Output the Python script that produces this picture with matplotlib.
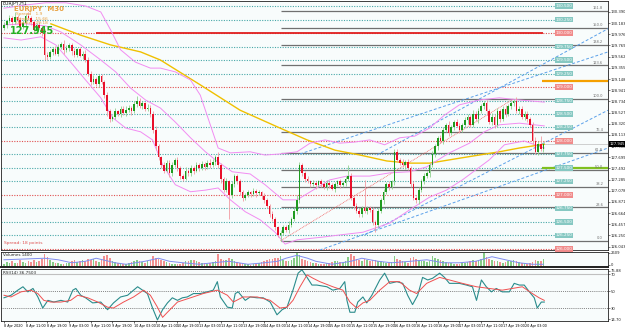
import matplotlib
matplotlib.use("Agg")
import matplotlib.pyplot as plt

# ---- candle closes (H1 bars) ----
closes = [
    130.15, 130.22, 130.28, 130.20, 130.30, 130.25, 130.12, 130.18, 130.32, 130.28,
    130.20, 130.05, 130.15, 130.10, 130.00, 129.60, 129.55, 129.65, 129.70, 129.62,
    129.75, 129.80, 129.68, 129.72, 129.78, 129.66, 129.60, 129.70, 129.58, 129.62,
    129.50, 129.25, 129.10, 129.15, 129.05, 129.20, 129.10, 128.85, 128.55, 128.40,
    128.45, 128.55, 128.50, 128.60, 128.52, 128.58, 128.62, 128.55, 128.68, 128.75,
    128.65, 128.70, 128.60, 128.62, 128.50, 128.20, 127.90, 127.70, 127.55, 127.45,
    127.60, 127.40, 127.55, 127.65, 127.50, 127.35, 127.30, 127.45, 127.40, 127.50,
    127.45, 127.55, 127.50, 127.58, 127.52, 127.60, 127.55, 127.62, 127.70, 127.55,
    127.30, 127.10, 127.25, 127.00, 127.20, 127.35, 127.25, 127.05, 126.95, 127.00,
    127.05, 127.02, 127.08, 127.03, 127.05, 126.98, 126.90, 126.80, 126.65, 126.55,
    126.40, 126.25, 126.30, 126.40, 126.35, 126.45, 126.55, 126.70, 126.90, 127.55,
    127.40, 127.30, 127.25, 127.20, 127.22, 127.18, 127.25, 127.20, 127.15, 127.22,
    127.18, 127.12, 127.20, 127.25, 127.18, 127.22, 127.30, 127.35, 126.95, 126.80,
    126.70, 126.65, 126.75, 126.70, 126.75, 126.72, 126.50, 126.45, 126.70, 126.90,
    127.05, 127.20, 127.15, 127.25, 127.80, 127.65, 127.60, 127.55, 127.62, 127.50,
    127.20, 126.95, 126.90, 127.10, 127.25, 127.35, 127.40, 127.55, 127.75, 127.90,
    128.05, 128.00, 128.20, 128.30, 128.15, 128.25, 128.35, 128.28, 128.20, 128.30,
    128.38, 128.45, 128.30, 128.50, 128.40, 128.55, 128.65, 128.70, 128.55, 128.35,
    128.45, 128.30, 128.55, 128.40, 128.60, 128.50, 128.65, 128.70, 128.75, 128.55,
    128.60, 128.45, 128.50, 128.40, 128.30, 128.00, 127.80, 127.95, 127.85, 127.95,
]
first_open = 130.10

# wick lengths in pips (0.01)
up_wick = [
    5, 3, 6, 4, 8, 3, 5, 7, 4, 6, 3, 5, 4, 6, 3, 8, 4, 3, 5, 6,
    4, 3, 7, 5, 3, 4, 6, 3, 5, 4, 6, 5, 4, 7, 3, 5, 4, 3, 6, 5,
    4, 6, 3, 5, 4, 7, 5, 3, 6, 8, 4, 5, 3, 6, 4, 5, 8, 4, 3, 6,
    5, 4, 7, 3, 5, 4, 3, 6, 4, 5, 3, 6, 4, 5, 3, 4, 6, 5, 4, 10,
    5, 4, 6, 3, 5, 4, 3, 5, 4, 3, 4, 3, 5, 3, 4, 3, 5, 4, 3, 5,
    4, 3, 6, 5, 4, 6, 5, 8, 10, 6, 5, 4, 6, 3, 5, 4, 3, 5, 4, 6,
    3, 5, 4, 3, 5, 4, 6, 20, 5, 4, 6, 5, 4, 53, 5, 4, 6, 3, 5, 4,
    6, 4, 5, 3, 6, 5, 4, 6, 3, 5, 4, 6, 3, 5, 4, 6, 5, 4, 6, 5,
    4, 6, 5, 4, 7, 5, 4, 6, 5, 4, 6, 5, 4, 7, 5, 6, 4, 5, 6, 4,
    7, 5, 6, 4, 5, 6, 4, 5, 3, 6, 5, 4, 6, 5, 4, 6, 8, 5, 15, 4,
]
down_wick = [
    4, 6, 3, 5, 4, 6, 3, 5, 7, 4, 6, 4, 5, 3, 6, 10, 5, 4, 6, 3,
    5, 4, 6, 3, 5, 7, 4, 5, 3, 6, 4, 5, 6, 4, 3, 5, 4, 6, 8, 5,
    3, 5, 4, 6, 3, 5, 4, 6, 3, 5, 4, 6, 5, 4, 6, 5, 7, 6, 5, 4,
    3, 6, 5, 4, 6, 5, 4, 3, 5, 4, 6, 3, 5, 4, 6, 3, 5, 4, 6, 5,
    7, 5, 4, 45, 5, 6, 4, 5, 6, 4, 3, 5, 4, 6, 3, 5, 4, 5, 6, 4,
    5, 3, 10, 5, 4, 6, 5, 4, 6, 5, 4, 6, 3, 5, 4, 6, 3, 5, 4, 6,
    5, 3, 6, 4, 5, 3, 6, 4, 5, 6, 4, 5, 6, 4, 5, 3, 6, 13, 5, 4,
    6, 4, 5, 3, 6, 4, 5, 3, 6, 4, 5, 4, 5, 6, 4, 5, 3, 6, 4, 5,
    6, 4, 5, 3, 6, 4, 5, 3, 6, 4, 5, 6, 4, 5, 3, 6, 4, 5, 6, 4,
    5, 6, 4, 5, 3, 6, 4, 5, 6, 4, 5, 4, 6, 5, 4, 6, 5, 6, 4, 5,
]

volumes = [
    600, 900, 700, 1100, 800, 650, 1200, 900, 700, 1000, 850, 1300, 900, 1100, 1400,
    2400, 1800, 1200, 900, 800, 700, 600, 500, 650, 800, 1000, 1200, 900, 1100, 1300, 1000,
    1500, 1200, 1400, 1100, 900, 1300, 1900, 2200, 1600,
    1100, 900, 800, 700, 600, 500, 700, 900, 1000, 1300, 1100, 900, 800, 1000, 1200,
    2000, 1700, 1400, 1200,
    1000, 900, 700, 600, 500, 550, 600, 800, 1000, 1100, 1300, 1200, 1000, 900, 800, 700,
    600, 700, 900, 1100,
    2300, 1500, 1300, 1200, 1600, 1400, 1100, 900, 800, 700,
    600, 500, 450, 500, 600, 700, 900, 1000,
    1300, 1500, 1400, 1700, 1600,
    1900, 1200, 1100, 1000, 1300,
    1700, 2600, 2200, 1500,
    1200, 1000, 900, 800, 700, 600, 500, 600, 700, 800, 900, 1000, 1100, 900, 800, 1000,
    1800, 2300, 1900, 1500, 1300, 1100, 1400, 1200, 1000,
    1300, 1200, 1100, 1000, 900, 800, 700, 900,
    2000, 1500, 1200, 1000, 900, 800,
    1600, 1800, 1400, 1200, 1000, 1100, 900, 1000,
    1900, 1700, 1500, 1300, 1100, 900, 800, 700, 600, 500, 600, 700, 800,
    900, 1000, 1200, 1100, 1300, 1500, 2500, 1800, 1400, 1200, 1100, 1000, 900, 800,
    900, 1000, 1100, 1300,
    1100, 900, 800, 700, 600, 700, 900, 1200, 1100, 1000, 1400,
]
vol_ma_bar = [0, 15, 20, 25, 30, 34, 41, 45, 52, 57, 61, 66, 72, 77, 83, 90, 96, 101, 104,
              108, 112, 115, 121, 128, 132, 138, 143, 150, 156, 162, 168, 174, 180, 185,
              190, 195, 199]
vol_ma_val = [1300, 1576, 1300, 760, 1030, 1576, 760, 490, 1030, 1576, 1030, 760, 490, 760,
              1030, 490, 760, 1030, 1576, 2100, 1576, 1030, 490, 1030, 1576, 1030, 760,
              1030, 1300, 760, 760, 1030, 1850, 1300, 760, 490, 490]

# ---- indicator lines, (bar, value) knots ----
ma_bar = [17.3, 28.3, 39.3, 50.4, 57.7, 72.4, 87.1, 101.8, 111.8, 122.1, 131.3, 141.2,
          149.6, 157.0, 169.1, 182.7, 190.1, 199.3]
ma_val = [130.17, 129.96, 129.78, 129.65, 129.50, 129.04, 128.57, 128.24, 128.02, 127.83,
          127.74, 127.63, 127.59, 127.59, 127.69, 127.80, 127.87, 127.94]

bb_up_bar = [0, 8.1, 15.4, 22.8, 30.1, 35.7, 39.3, 43.0, 48.5, 54.0, 57.7, 63.2, 68.8, 72.4,
             76.1, 79.0, 83.5, 90.8, 96.3, 101.8, 108.1, 112.9, 118.4, 123.9, 129.4, 134.9,
             140.4, 146.0, 151.5, 157.0, 162.5, 168.0, 175.4, 182.7, 190.1, 199.3]
bb_up_val = [130.46, 130.52, 130.56, 130.56, 130.50, 130.39, 130.06, 129.69, 129.46, 129.35,
             129.35, 129.28, 129.13, 128.85, 128.30, 127.87, 127.78, 127.80, 127.74, 127.76,
             127.80, 127.96, 128.02, 127.96, 127.98, 128.02, 127.93, 128.06, 128.09, 128.24,
             128.48, 128.67, 128.76, 128.80, 128.76, 128.72]
bb_mid_bar = [0, 8.1, 15.4, 21.0, 28.3, 35.7, 41.2, 46.7, 52.2, 57.7, 63.2, 68.8, 74.3, 79.0,
              84.2, 90.8, 96.3, 102.9, 108.1, 114.0, 120.2, 126.5, 134.9, 142.3, 149.6,
              155.9, 164.3, 171.7, 177.2, 182.7, 190.1, 199.3]
bb_mid_val = [130.15, 130.17, 130.13, 130.02, 129.78, 129.50, 129.28, 128.98, 128.76, 128.61,
              128.35, 128.06, 127.80, 127.61, 127.43, 127.39, 127.19, 126.91, 126.91, 127.09,
              127.28, 127.35, 127.35, 127.41, 127.43, 127.52, 127.78, 127.96, 128.17, 128.30,
              128.33, 128.28]
bb_low_bar = [0, 6.3, 13.6, 19.1, 24.6, 30.1, 35.7, 40.1, 44.9, 50.4, 54.8, 58.5, 63.2, 68.8,
              74.3, 79.0, 83.5, 89.0, 94.5, 100.0, 103.7, 108.1, 117.6, 123.9, 132.4, 142.3,
              150.7, 157.0, 163.2, 169.1, 179.0, 184.6, 191.9, 199.3]
bb_low_val = [129.91, 129.87, 129.93, 129.78, 129.46, 129.13, 128.80, 128.43, 128.24, 128.17,
              128.02, 127.56, 127.19, 127.06, 127.09, 127.13, 126.91, 126.69, 126.54, 126.31,
              126.09, 126.17, 126.22, 126.26, 126.31, 126.48, 126.76, 126.96, 127.09, 127.28,
              127.65, 127.93, 128.00, 127.87]

rsi_bar = [0, 2.6, 5.1, 7.0, 8.8, 10.7, 12.5, 14.3, 16.2, 18.4, 21.0, 23.5, 25.4, 26.5, 28.3,
           30.1, 32.7, 35.7, 38.2, 40.4, 43.0, 45.6, 47.8, 49.3, 51.1, 52.9, 54.8, 56.6,
           58.5, 60.3, 62.1, 64.0, 65.8, 67.6, 69.9, 72.4, 75.0, 77.2, 78.7, 79.8, 82.4,
           84.2, 85.3, 86.4, 89.0, 90.8, 93.4, 95.6, 98.2, 100.7, 102.6, 104.4, 106.6,
           108.5, 109.9, 111.8, 113.6, 115.4, 119.1, 121.3, 123.9, 125.7, 126.5, 127.6,
           129.4, 130.5, 132.4, 133.8, 135.7, 138.6, 140.4, 142.3, 144.9, 147.1, 148.9,
           150.7, 152.6, 154.4, 156.3, 158.1, 160.7, 162.5, 164.3, 168.0, 170.6, 172.8,
           174.3, 176.1, 177.9, 179.8, 181.6, 183.8, 186.4, 188.2, 190.1, 191.9, 193.8,
           195.6, 196.7, 198.2, 199.3]
rsi_val = [42, 45, 51, 55, 49, 53, 43, 30, 39, 37, 39, 37, 51, 53, 45, 42, 36, 37, 28, 36,
           43, 45, 51, 55, 51, 47, 30, 16, 28, 36, 42, 39, 42, 43, 47, 47, 49, 51, 61, 43,
           31, 30, 47, 49, 39, 43, 42, 42, 37, 22, 28, 31, 51, 71, 75, 66, 57, 57, 55, 51,
           53, 61, 39, 25, 25, 37, 43, 36, 45, 63, 71, 59, 61, 59, 45, 34, 45, 66, 63, 65,
           71, 66, 59, 59, 57, 55, 39, 63, 55, 49, 53, 49, 49, 59, 57, 57, 49, 42, 30, 37, 37]
sig_bar = [0, 2.6, 6.3, 9.9, 12.5, 14.7, 17.3, 21.0, 24.6, 27.2, 30.9, 34.6, 38.2, 40.4,
           44.1, 47.8, 51.5, 54.0, 56.6, 58.5, 60.3, 64.0, 68.8, 73.5, 78.7, 82.4, 84.6,
           88.2, 93.4, 98.2, 101.8, 104.4, 106.6, 109.2, 111.8, 114.0, 116.5, 121.3, 125.0,
           127.6, 130.1, 132.4, 134.9, 138.6, 142.3, 145.9, 149.6, 152.2, 155.9, 160.7,
           164.3, 169.1, 174.3, 179.0, 183.8, 187.5, 191.2, 194.9, 197.4, 199.3]
sig_val = [45, 43, 49, 51, 47, 39, 37, 37, 39, 45, 42, 37, 31, 30, 37, 43, 51, 45, 31, 19,
           25, 37, 42, 47, 51, 45, 37, 43, 43, 39, 30, 31, 39, 55, 69, 65, 61, 55, 51, 37,
           30, 36, 39, 51, 61, 61, 51, 47, 59, 66, 63, 59, 55, 53, 51, 53, 55, 47, 42, 39]

# ---- levels and drawing objects ----
round_levels = [126.00, 126.25, 126.50, 126.75, 127.00, 127.25, 127.50, 127.75, 128.00,
                128.25, 128.50, 128.75, 129.00, 129.25, 129.50, 129.75, 130.00, 130.25, 130.50]
fib_ratios = [0.0, 23.6, 38.2, 50.0, 61.8, 76.4, 100.0, 123.6, 138.2, 150.0, 161.8]
fib_start, fib_low = 102, 126.15
fib_end, fib_high = 188, 128.78
channels = [((137.5, 127.74), (222.8, 130.08)),
            ((109.2, 127.76), (222.8, 129.65)),
            ((133.1, 126.26), (222.8, 128.57)),
            ((116.5, 125.98), (222.8, 127.87))]
resistance = 129.11
support = 127.50
price_ticks = [130.390, 130.183, 129.976, 129.769, 129.562, 129.355, 129.148, 128.941,
               128.734, 128.527, 128.320, 128.113, 127.906, 127.699, 127.492, 127.285,
               127.078, 126.871, 126.664, 126.457, 126.250, 126.043]
last_price = 127.945
time_labels = ["8 Apr 2020", "8 Apr 11:00", "8 Apr 19:00", "9 Apr 03:00", "9 Apr 11:00",
               "9 Apr 19:00", "10 Apr 03:00", "10 Apr 11:00", "10 Apr 19:00", "13 Apr 03:00",
               "13 Apr 11:00", "13 Apr 19:00", "14 Apr 03:00", "14 Apr 11:00", "14 Apr 19:00",
               "15 Apr 03:00", "15 Apr 11:00", "15 Apr 19:00", "16 Apr 03:00", "16 Apr 11:00",
               "16 Apr 19:00", "17 Apr 03:00", "17 Apr 11:00", "17 Apr 19:00", "20 Apr 03:00"]

n = len(closes)
assert len(up_wick) == n and len(down_wick) == n and len(volumes) == n
opens = [first_open] + closes[:-1]
highs = [max(o, c) + u / 100 for o, c, u in zip(opens, closes, up_wick)]
lows = [min(o, c) - d / 100 for o, c, d in zip(opens, closes, down_wick)]
idx = list(range(n))
bull = [c >= o for o, c in zip(opens, closes)]

XMIN, XMAX = -1.1, 222.8
W = 625
AX_W = 607 / W

fig = plt.figure(figsize=(6.25, 3.32), dpi=100)
fig.patch.set_facecolor("white")
ax = fig.add_axes([1 / W, 1 - 250 / 332, AX_W, 249 / 332])
axv = fig.add_axes([1 / W, 1 - 267 / 332, AX_W, 15 / 332])
axr = fig.add_axes([1 / W, 1 - 321 / 332, AX_W, 52 / 332])

for a in (ax, axv, axr):
    a.set_facecolor("#f8fcfc")
    a.set_xlim(XMIN, XMAX)
    for s in a.spines.values():
        s.set_linewidth(0.6)
        s.set_color("#202020")
    a.yaxis.tick_right()
    a.tick_params(axis="y", labelsize=2.7, length=1.5, width=0.4, pad=0.6, colors="#202020")
    a.tick_params(axis="x", bottom=False, labelbottom=False)
axv.spines["bottom"].set_linewidth(1.4)

# main price panel
ax.set_ylim(125.981, 130.593)
for lvl in round_levels:
    whole = abs(lvl - round(lvl)) < 1e-6
    col = "#e05050" if whole else "#48a8a8"
    if lvl == 130.00:
        ax.hlines(lvl, 33.8, 199, color="#e02020", lw=1.3, zorder=2)
    ax.hlines(lvl, XMIN, 203.6, color=col, lw=0.8, linestyles=(0, (1, 1.3)), zorder=1)
    ax.text(206.6, lvl, f"{lvl:.3f}", fontsize=3.0, ha="center", va="center", color="white",
            bbox=dict(boxstyle="square,pad=0.15", fc="#f08a8a" if whole else "#86c8c2",
                      ec="none"), zorder=6)

rng = fib_high - fib_low
for r in fib_ratios:
    lvl = fib_low + r / 100 * rng
    ax.hlines(lvl, fib_start, XMAX, color="#707070", lw=0.9, zorder=2)
    ax.text(221.0, lvl + 0.015, f"{r:.1f}", fontsize=2.6, color="#707070", ha="right",
            va="bottom", zorder=6)
ax.plot([fib_start, fib_end], [fib_low, fib_high], color="#f06060", lw=0.6,
        ls=(0, (1, 1)), zorder=2)

for (x0, y0), (x1, y1) in channels:
    ax.plot([x0, x1], [y0, y1], color="#5aa0ea", lw=0.7, ls=(0, (3, 2)), zorder=2)

ax.hlines(resistance, 198.5, XMAX, color="#f5a000", lw=1.6, zorder=3)
ax.hlines(support, 198.5, XMAX, color="#80c020", lw=1.6, zorder=3)
ax.hlines(last_price, 199, XMAX, color="#c8c8c8", lw=0.6, zorder=2)

ax.plot(ma_bar, ma_val, color="#f0c000", lw=1.0, zorder=3)
for bx, by in ((bb_up_bar, bb_up_val), (bb_mid_bar, bb_mid_val), (bb_low_bar, bb_low_val)):
    ax.plot(bx, by, color="#f28cf2", lw=0.7, zorder=3)

wick_cols = ["#8fd08f" if b else "#f29aa2" for b in bull]
body_cols = ["#1f9a1f" if b else "#e8102a" for b in bull]
ax.vlines(idx, lows, highs, colors=wick_cols, lw=0.6, zorder=4)
bottoms = [min(o, c) for o, c in zip(opens, closes)]
heights = [max(abs(c - o), 0.006) for o, c in zip(opens, closes)]
ax.bar(idx, heights, bottom=bottoms, width=0.6, color=body_cols, lw=0, zorder=5)

ax.set_yticks(price_ticks)
ax.set_yticklabels([f"{t:.3f}" for t in price_ticks])
ax.text(1.0025, last_price, f"{last_price:.3f}", transform=ax.get_yaxis_transform(),
        fontsize=2.7, color="white", ha="left", va="center",
        bbox=dict(boxstyle="square,pad=0.15", fc="black", ec="none"), clip_on=False,
        zorder=10)

# header texts
fig.text(3 / W, 1 - 4 / 332, "EURJPY,H1", fontsize=3.4, color="#202020", va="center")
fig.text(14 / W, 1 - 9 / 332, "EURJPY  M30", fontsize=5, color="#e8a040",
         fontweight="bold", va="center")
fig.text(16 / W, 1 - 14.5 / 332, "Spread   1.9", fontsize=3.2, color="#e8a040", va="center")
fig.text(16 / W, 1 - 19 / 332, "Range    15.66", fontsize=3.2, color="#e8a040", va="center")
fig.text(16 / W, 1 - 23.5 / 332, "Candle   29:18", fontsize=3.2, color="#e8a040", va="center")
fig.text(10 / W, 1 - 30.5 / 332, f"{last_price:.3f}", fontsize=7, color="#22b022",
         fontweight="bold", va="center")
fig.text(4 / W, 1 - 243 / 332, "Spread: 18 points", fontsize=3.2, color="#e05050",
         va="center")

# volume panel
vcols = ["#86cc86" if b else "#f29090" for b in bull]
axv.bar(idx, volumes, width=0.6, color=vcols, lw=0)
axv.plot(vol_ma_bar, vol_ma_val, color="#7f8cf0", lw=0.7)
axv.set_ylim(0, 2700)
axv.set_yticks([400, 2609])
axv.set_yticklabels(["0", "2609"])
axv.text(0.004, 0.93, "Volumes 1400", transform=axv.transAxes, fontsize=3.0,
         color="#202020", va="top")

# RSI panel
axr.set_ylim(14.7, 75.9)
axr.axhline(70, color="#c0c0c0", lw=0.8)
for lv in (50, 30):
    axr.axhline(lv, color="#606060", lw=0.6, ls=(0, (1, 1.3)))
axr.plot(rsi_bar, rsi_val, color="#2a8c8c", lw=0.8)
axr.plot(sig_bar, sig_val, color="#f05050", lw=0.7)
axr.set_yticks([73.8, 70, 50, 30, 16.8])
axr.set_yticklabels(["75.88", "70", "50", "30", "14.70"])
axr.text(0.004, 0.96, "RSI(14) 36.7503", transform=axr.transAxes, fontsize=3.0,
         color="#202020", va="top")
label_bars = [8 * i for i in range(len(time_labels))]
axr.set_xticks(label_bars)
axr.set_xticklabels(time_labels)
axr.tick_params(axis="x", bottom=True, labelbottom=True, labelsize=2.4, length=1.5,
                width=0.4, pad=1)
for t in axr.get_xticklabels():
    t.set_ha("left")

fig.savefig("out.png", dpi=100, facecolor="white")
